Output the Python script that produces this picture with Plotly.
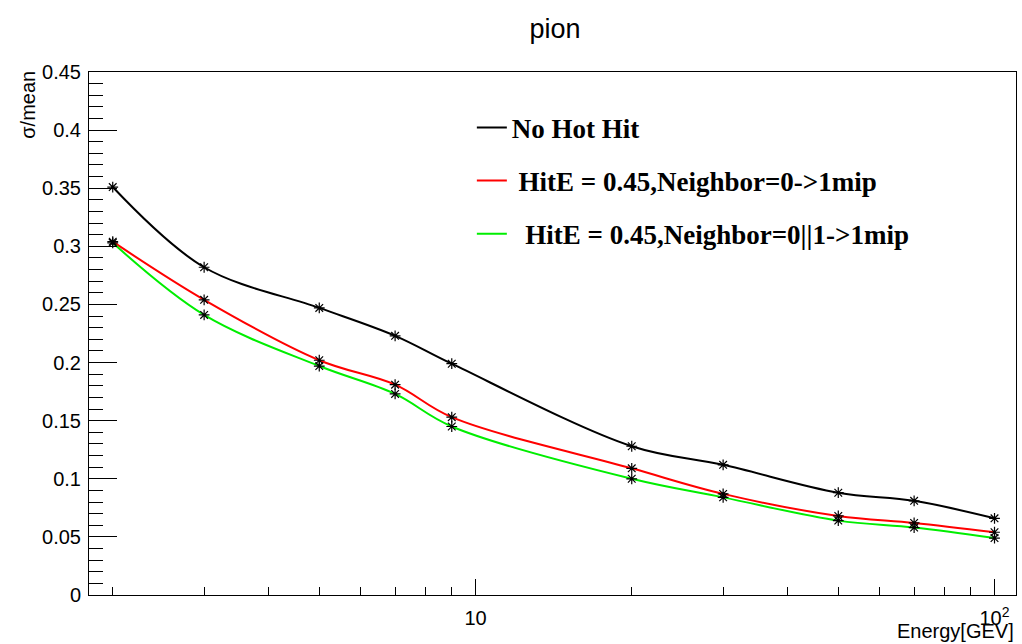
import plotly.graph_objects as go

# Beam energies (GeV)
energy = [2, 3, 5, 7, 9, 20, 30, 50, 70, 100]

# Relative energy resolution sigma/mean for each hit-cleaning setting
no_hot_hit = [0.351, 0.282, 0.247, 0.223, 0.199, 0.128, 0.112, 0.088, 0.081, 0.066]
neighbor_0 = [0.304, 0.254, 0.202, 0.181, 0.153, 0.109, 0.087, 0.068, 0.062, 0.054]
neighbor_01 = [0.303, 0.241, 0.197, 0.173, 0.145, 0.100, 0.084, 0.064, 0.058, 0.049]

series_names = [
    "No Hot Hit",
    "\u00a0HitE = 0.45,Neighbor=0->1mip",
    "\u00a0\u00a0HitE = 0.45,Neighbor=0||1->1mip",
]
series_colors = ["#000000", "#ff0000", "#00ee00"]
series_values = [no_hot_hit, neighbor_0, neighbor_01]

x_tick_vals = [10, 100]
x_tick_text = ["10", "10<sup>2</sup>"]
x_minor_vals = [2, 3, 4, 5, 6, 7, 8, 9, 20, 30, 40, 50, 60, 70, 80, 90]

fig = go.Figure()

for i, (name, color, vals) in enumerate(zip(series_names, series_colors, series_values)):
    # smooth curve through the points (legend entry shows the line only)
    fig.add_trace(go.Scatter(
        x=energy, y=vals, mode="lines", name=name,
        line=dict(color=color, width=2, shape="spline", smoothing=1.0),
        legendgroup=f"g{i}",
    ))
for vals in series_values:
    # black star markers on each measured point
    fig.add_trace(go.Scatter(
        x=energy, y=vals, mode="markers", showlegend=False,
        marker=dict(symbol="asterisk-open", size=9, color="black",
                    line=dict(color="black", width=1.2)),
    ))

sans = "Liberation Sans, Arial, sans-serif"
axis_font = dict(family=sans, size=20, color="black")

fig.update_layout(
    width=1022, height=644,
    margin=dict(l=89, r=6, t=72, b=49),
    paper_bgcolor="white", plot_bgcolor="white",
    title=dict(text="pion", x=0.543, xanchor="center", y=0.955, yanchor="middle",
               font=dict(family=sans, size=27, color="black")),
    showlegend=True,
    legend=dict(
        x=0.413, y=0.94, xanchor="left", yanchor="top",
        bgcolor="rgba(0,0,0,0)", borderwidth=0,
        font=dict(family="Liberation Serif, Times New Roman, serif", size=27, color="black",
                  weight="bold"),
        itemwidth=30, tracegroupgap=15,
    ),
    xaxis=dict(
        type="log", range=[0.2553, 2.0414],
        showline=True, linecolor="black", linewidth=1, mirror=True,
        showgrid=False, zeroline=False,
        tickmode="array", tickvals=x_tick_vals, ticktext=x_tick_text,
        ticks="inside", ticklen=16, tickcolor="black", tickwidth=1,
        ticklabelstandoff=5,
        tickfont=axis_font,
        minor=dict(tickmode="array", tickvals=x_minor_vals, ticks="inside",
                   ticklen=8, tickcolor="black", tickwidth=1, showgrid=False),
    ),
    yaxis=dict(
        range=[0, 0.45],
        showline=True, linecolor="black", linewidth=1, mirror=True,
        showgrid=False, zeroline=False,
        tickmode="linear", tick0=0, dtick=0.05,
        ticks="inside", ticklen=28, tickcolor="black", tickwidth=1,
        ticklabelstandoff=3,
        tickfont=axis_font,
        minor=dict(dtick=0.01, ticks="inside", ticklen=14, tickcolor="black",
                   tickwidth=1, showgrid=False),
    ),
    annotations=[
        dict(text="Energy[GEV]", xref="paper", yref="paper", x=1.0, y=-0.069,
             xanchor="right", yanchor="middle", showarrow=False,
             font=dict(family=sans, size=20, color="black")),
        dict(text="σ/mean", xref="paper", yref="paper", x=-0.066, y=0.937,
             xanchor="center", yanchor="middle", textangle=-90, showarrow=False,
             font=dict(family=sans, size=20, color="black")),
    ],
)

fig.write_html("out.html")
